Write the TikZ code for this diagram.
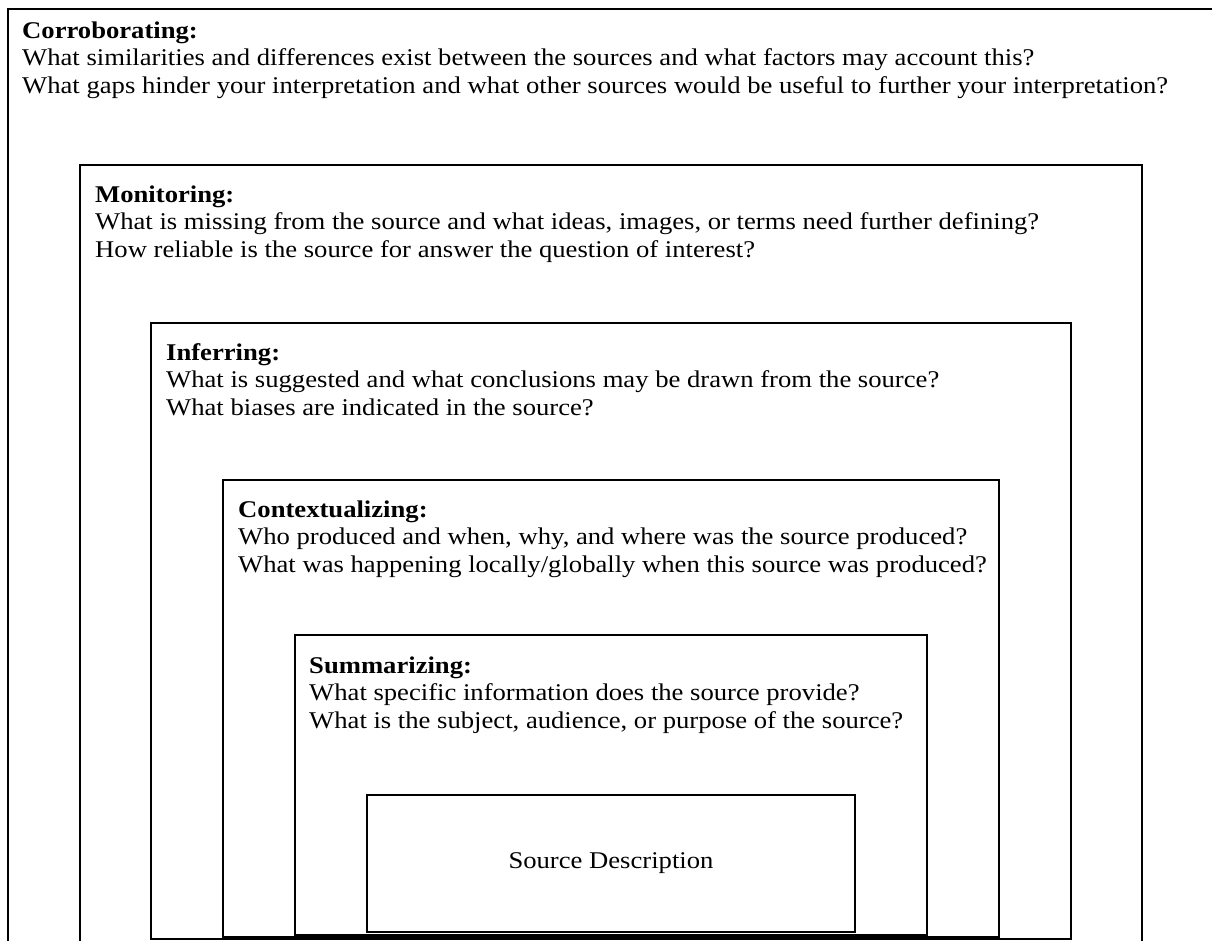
\documentclass[tikz,border=0pt]{standalone}
\usepackage{fontspec}
\setmainfont{Liberation Serif}[FakeStretch=1.11]
\begin{document}
\begin{tikzpicture}[x=1pt,y=-1pt,
  frame/.style={line width=1.3pt, draw=black},
  boxtext/.style={anchor=base west, inner sep=0pt, align=left,
    font=\fontsize{24}{27.5}\selectfont}]
\useasboundingbox (0,0) rectangle (1212,940);
% frames (outer two run off the page)
\draw[frame, line width=2pt] (1230,9) -- (8,9) -- (8,960);
\draw[frame] (80,960) -- (80,165) -- (1142,165) -- (1142,960);
\draw[frame] (151,939) rectangle (1071,323);
\draw[frame] (223,937) rectangle (999,480);
\draw[frame] (295,935) rectangle (927,635);
\node[frame, minimum width=488pt, minimum height=137pt, inner sep=0pt,
  font=\fontsize{24}{27.5}\selectfont] (src) at (611,863.5) {Source Description};
% texts (anchor base = baseline of last line)
\node[boxtext] (corr) at (22,93) {\textbf{Corroborating:}\\
What similarities and differences exist between the sources and what factors may account this?\\
What gaps hinder your interpretation and what other sources would be useful to further your interpretation?};
\node[boxtext] (mon) at (95,257) {\textbf{Monitoring:}\\
What is missing from the source and what ideas, images, or terms need further defining?\\
How reliable is the source for answer the question of interest?};
\node[boxtext] (inf) at (166,415) {\textbf{Inferring:}\\
What is suggested and what conclusions may be drawn from the source?\\
What biases are indicated in the source?};
\node[boxtext] (ctx) at (238,572) {\textbf{Contextualizing:}\\
Who produced and when, why, and where was the source produced?\\
What was happening locally/globally when this source was produced?};
\node[boxtext] (sum) at (309,728) {\textbf{Summarizing:}\\
What specific information does the source provide?\\
What is the subject, audience, or purpose of the source?};
\end{tikzpicture}
\end{document}
